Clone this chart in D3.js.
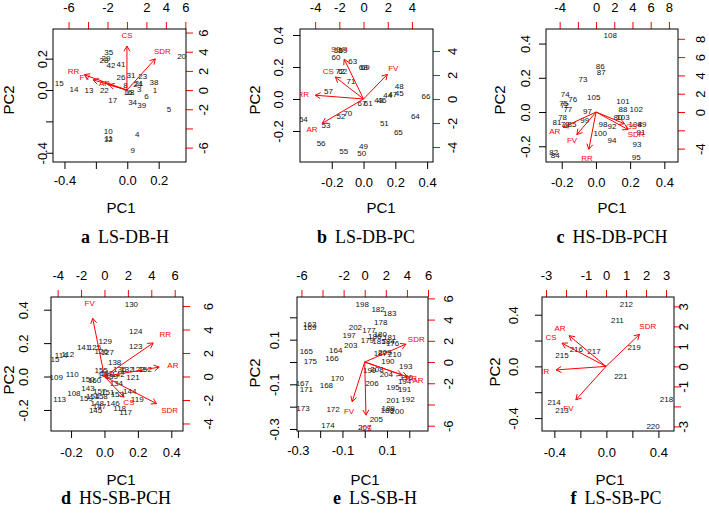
<!DOCTYPE html>
<html>
<head>
<meta charset="utf-8">
<script src="https://cdn.jsdelivr.net/npm/d3@7"></script>
<style>
  body { margin: 0; background: #fff; }
  svg { display: block; font-family: "Liberation Sans", Arial, sans-serif; }
</style>
</head>
<body>
<svg id="chart" width="709" height="513"></svg>
<script>
// ---------- data: scores (PC1, PC2) and variable loadings ----------
const aIds  = ["35","28","29","42","41","20","15","14","13","22","26","31","23","24","21","3","38","1","17","18","16","6","34","39","5","10","12","11","4","9","8"];
const aPC1  = [-0.118,-0.148,-0.135,-0.104,-0.040,0.346,-0.433,-0.339,-0.244,-0.146,-0.040,0.024,0.098,0.066,0.074,0.076,0.170,0.176,-0.093,0.017,0.004,0.123,0.034,0.092,0.266,-0.121,-0.121,-0.117,0.064,0.034,-0.012];
const aPC2  = [0.240,0.193,0.200,0.159,0.166,0.217,0.045,0.006,0.000,0.000,0.081,0.096,0.085,0.036,0.042,0.006,0.049,0.000,-0.064,-0.017,-0.015,-0.038,-0.079,-0.096,-0.125,-0.265,-0.312,-0.306,-0.280,-0.382,0.030];
const aVars = ["CS","SDR","RR","FV","AR"];
const aLd1  = [0.00, 3.64,-5.48,-4.35,-2.30];
const aLd2  = [5.74, 4.07, 2.00, 1.33, 0.70];

const bIds  = ["58","59","60","63","68","69","62","72","71","57","48","45","47","44","46","43","66","67","61","70","52","54","53","51","64","65","56","55","49","50"];
const bPC1  = [-0.160,-0.129,-0.173,-0.068,-0.002,0.010,-0.131,-0.148,-0.079,-0.221,0.225,0.225,0.184,0.152,0.116,0.095,0.393,-0.010,0.030,-0.099,-0.142,-0.379,-0.236,0.131,0.326,0.219,-0.267,-0.125,-0.001,-0.011];
const bPC2  = [0.306,0.306,0.261,0.239,0.200,0.200,0.171,0.171,0.114,0.046,0.081,0.036,0.031,0.025,-0.006,-0.006,0.019,-0.025,-0.025,-0.086,-0.110,-0.127,-0.163,-0.152,-0.110,-0.210,-0.277,-0.325,-0.294,-0.339];
const bVars = ["SDR","CS","RR","FV","AR"];
const bLd1  = [-2.00,-2.91,-4.98, 2.46,-4.26];
const bLd2  = [ 4.14, 2.28, 0.39, 2.56,-2.53];

const cIds  = ["108","86","87","73","74","76","75","72","77","105","101","88","102","97","78","81","79","85","99","80","103","98","92","104","89","91","100","94","93","95","82","84"];
const cPC1  = [0.084,0.025,0.031,-0.076,-0.179,-0.136,-0.189,-0.183,-0.164,-0.013,0.158,0.158,0.236,-0.049,-0.195,-0.228,-0.179,-0.140,-0.066,0.129,0.158,0.041,0.094,0.230,0.269,0.263,0.025,0.094,0.240,0.236,-0.247,-0.238];
const cPC2  = [0.450,0.269,0.230,0.191,0.105,0.076,0.054,0.041,0.016,0.089,0.064,0.016,0.016,0.002,-0.031,-0.062,-0.072,-0.072,-0.047,-0.033,-0.033,-0.072,-0.082,-0.072,-0.072,-0.119,-0.125,-0.164,-0.187,-0.265,-0.232,-0.251];
const cVars = ["AR","FV","RR","SDR","CS"];
const cLd1  = [-4.54,-2.64,-0.99, 4.40, 3.90];
const cLd2  = [-2.09,-3.08,-5.09,-2.40,-1.60];

const dIds  = ["130","124","123","129","141","125","127","126","112","114","115","138","109","110","150","160","155","137","139","142","136","132","122","152","121","134","143","108","113","159","157","148","145","153","144","119","146","117","118","154","158","147","151","140"];
const dPC1  = [0.161,0.187,0.187,0.005,-0.125,-0.059,0.017,-0.019,-0.219,-0.259,-0.308,0.061,-0.289,-0.193,-0.099,-0.059,-0.019,0.011,0.041,0.081,0.091,0.135,0.200,0.244,0.171,0.071,-0.099,-0.183,-0.268,-0.109,-0.029,-0.043,-0.053,0.077,0.151,0.196,0.051,0.127,0.091,-0.070,-0.020,-0.030,0.020,0.000];
const dPC2  = [0.434,0.274,0.184,0.211,0.177,0.177,0.145,0.151,0.135,0.125,0.101,0.085,-0.003,0.011,-0.015,-0.023,0.035,0.021,0.001,0.011,0.041,0.041,0.041,0.041,-0.005,-0.039,-0.069,-0.099,-0.135,-0.129,-0.089,-0.159,-0.202,-0.103,-0.089,-0.135,-0.159,-0.213,-0.189,-0.120,-0.120,-0.180,-0.095,0.010];
const dVars = ["FV","RR","AR","SDR","CS"];
const dLd1  = [-1.26, 5.20, 5.85, 5.57, 2.09];
const dLd2  = [ 6.20, 3.57, 1.00,-2.89,-2.20];

const eIds  = ["198","182","183","178","163","169","202","177","180","186","181","197","203","179","185","184","176","165","175","164","166","187","209","210","190","193","199","208","204","170","168","167","171","206","194","196","195","191","201","192","173","172","188","189","200","205","174","207"];
const ePC1  = [-0.011,0.060,0.112,0.072,-0.247,-0.247,-0.042,0.019,0.070,0.045,0.112,-0.070,-0.063,0.012,0.064,0.105,0.125,-0.262,-0.244,-0.130,-0.147,0.070,0.090,0.135,0.104,0.184,0.022,0.055,0.097,-0.123,-0.172,-0.280,-0.262,0.033,0.179,0.187,0.127,0.179,0.127,0.194,-0.277,-0.142,0.101,0.105,0.146,0.052,-0.165,0.000];
const ePC2  = [0.260,0.238,0.217,0.178,0.167,0.156,0.157,0.142,0.126,0.115,0.111,0.118,0.075,0.096,0.093,0.093,0.082,0.048,0.003,0.052,0.015,0.040,0.043,0.033,0.003,-0.017,-0.037,-0.031,-0.054,-0.072,-0.106,-0.094,-0.124,-0.094,-0.087,-0.067,-0.112,-0.121,-0.169,-0.166,-0.206,-0.211,-0.214,-0.205,-0.221,-0.256,-0.281,-0.293];
const eVars = ["SDR","RR","AR","FV","CS"];
const eLd1  = [4.89, 4.42, 5.05,-1.49, 0.15];
const eLd2  = [2.11,-1.52,-1.73,-4.67,-6.26];

const fIds  = ["212","211","219","216","217","215","221","218","214","213","220"];
const fPC1  = [0.154,0.085,0.213,-0.231,-0.095,-0.341,0.111,0.462,-0.402,-0.341,0.359];
const fPC2  = [0.483,0.357,0.150,0.134,0.116,0.085,-0.073,-0.253,-0.277,-0.336,-0.465];
const fVars = ["AR","CS","RR","FV","SDR"];
const fLd1  = [-2.30,-2.75,-3.12,-1.88, 2.09];
const fLd2  = [ 1.92, 1.45,-0.22,-2.09, 2.00];

// ---------- tick values and the labels R kept ----------
const aXT = [-0.4,-0.2,0,0.2],  aXL = [-0.4,0,0.2];
const aYT = [-0.4,-0.2,0,0.2],  aYL = [-0.4,0,0.2];
const aTT = [-6,-4,-2,0,2,4,6], aTL = [-6,-2,2,4,6];
const aRT = [-6,-4,-2,0,2,4,6], aRL = [-6,-2,0,2,4,6];

const bXT = [-0.2,0,0.2,0.4],   bXL = bXT;
const bYT = [-0.2,0,0.2,0.4],   bYL = bYT;
const bTT = [-4,-2,0,2,4],      bTL = bTT;
const bRT = [-4,-2,0,2,4],      bRL = bRT;

const cXT = [-0.2,0,0.2,0.4],   cXL = cXT;
const cYT = [-0.2,0,0.2,0.4],   cYL = cYT;
const cTT = [-4,-2,0,2,4,6,8],  cTL = [-4,0,2,4,6,8];
const cRT = [-4,-2,0,2,4,6,8],  cRL = [-4,0,2,4,6,8];

const dXT = [-0.2,0,0.2,0.4],   dXL = dXT;
const dYT = [-0.2,0,0.2,0.4],   dYL = dYT;
const dTT = [-4,-2,0,2,4,6],    dTL = dTT;
const dRT = [-4,-2,0,2,4,6],    dRL = dRT;

const eXT = [-0.3,-0.2,-0.1,0,0.1,0.2], eXL = [-0.3,-0.1,0.1];
const eYT = [-0.3,-0.2,-0.1,0,0.1,0.2], eYL = [-0.3,-0.1,0.1];
const eTT = [-6,-4,-2,0,2,4,6], eTL = [-6,-2,0,2,4,6];
const eRT = [-6,-4,-2,0,2,4,6], eRL = [-6,-2,0,2,4,6];

const fXT = [-0.4,-0.2,0,0.2,0.4], fXL = [-0.4,0,0.4];
const fYT = [-0.4,-0.2,0,0.2,0.4], fYL = [-0.4,0,0.4];
const fTT = [-3,-2,-1,0,1,2,3], fTL = [-3,-1,0,1,2,3];
const fRT = [-3,-2,-1,0,1,2,3], fRL = [-3,-1,0,1,2,3];

// ---------- panel layout ----------
const panels = [
  {tag:"a", name:"LS-DB-H", ids:aIds, p1:aPC1, p2:aPC2, vars:aVars, l1:aLd1, l2:aLd2,
   xt:aXT, xl:aXL, yt:aYT, yl:aYL, tt:aTT, tl:aTL, rt:aRT, rl:aRL,
   box:[53,29,186,162], xd:[-0.473,0.374], yd:[-0.459,0.389], sxd:[-7.6,6.07], syd:[-7.5,6.37],
   top:7, bottom:180, left:42, right:203, pc1:[121,208], pc2:[9,100], cap:[125,237]},
  {tag:"b", name:"LS-DB-PC", ids:bIds, p1:bPC1, p2:bPC2, vars:bVars, l1:bLd1, l2:bLd2,
   xt:bXT, xl:bXL, yt:bYT, yl:bYL, tt:bTT, tl:bTL, rt:bRT, rl:bRL,
   box:[300,29,433,162], xd:[-0.40,0.437], yd:[-0.394,0.4375], sxd:[-5.25,5.74], syd:[-5.25,5.83],
   top:7, bottom:182, left:278, right:452, pc1:[381,208], pc2:[255,100], cap:[366,237]},
  {tag:"c", name:"HS-DB-PCH", ids:cIds, p1:cPC1, p2:cPC2, vars:cVars, l1:cLd1, l2:cLd2,
   xt:cXT, xl:cXL, yt:cYT, yl:cYL, tt:cTT, tl:cTL, rt:cRT, rl:cRL,
   box:[546,29,678,162], xd:[-0.292,0.48], yd:[-0.292,0.485], sxd:[-5.5,9.0], syd:[-5.46,9.07],
   top:7, bottom:182, left:525, right:700, pc1:[612,208], pc2:[500,100], cap:[612,237]},
  {tag:"d", name:"HS-SB-PCH", ids:dIds, p1:dPC1, p2:dPC2, vars:dVars, l1:dLd1, l2:dLd2,
   xt:dXT, xl:dXL, yt:dYT, yl:dYL, tt:dTT, tl:dTL, rt:dRT, rl:dRL,
   box:[51,297,183,431], xd:[-0.320,0.470], yd:[-0.326,0.476], sxd:[-4.57,6.71], syd:[-4.64,6.77],
   top:275, bottom:452, left:23, right:208, pc1:[121,480], pc2:[9,380], cap:[116,498]},
  {tag:"e", name:"LS-SB-H", ids:eIds, p1:ePC1, p2:ePC2, vars:eVars, l1:eLd1, l2:eLd2,
   xt:eXT, xl:eXL, yt:eYT, yl:eYL, tt:eTT, tl:eTL, rt:eRT, rl:eRL,
   box:[297,297,428,431], xd:[-0.304,0.284], yd:[-0.309,0.291], sxd:[-6.42,6.0], syd:[-6.5,6.13],
   top:275, bottom:450, left:274, right:448, pc1:[365,480], pc2:[255,373], cap:[375,498]},
  {tag:"f", name:"LS-SB-PC", ids:fIds, p1:fPC1, p2:fPC2, vars:fVars, l1:fLd1, l2:fLd2,
   xt:fXT, xl:fXL, yt:fYT, yl:fYL, tt:fTT, tl:fTL, rt:fRT, rl:fRL,
   box:[542,297,674,431], xd:[-0.495,0.52], yd:[-0.50,0.537], sxd:[-3.2,3.4], syd:[-3.23,3.47],
   top:275, bottom:452, left:513, right:683, pc1:[610,480], pc2:[495,372], cap:[616,498]}
];

const svg = d3.select("#chart");
const RED = "#ff0000";
const fmtMain = v => v.toFixed(1);
const fmtSec = v => String(v);

panels.forEach(p => {
  const [x0, y0, x1, y1] = p.box;
  const x = d3.scaleLinear().domain(p.xd).range([x0, x1]);
  const y = d3.scaleLinear().domain(p.yd).range([y1, y0]);
  const sx = d3.scaleLinear().domain(p.sxd).range([x0, x1]);
  const sy = d3.scaleLinear().domain(p.syd).range([y1, y0]);
  const g = svg.append("g");

  // clip marks to the plot region like R does
  const clipId = "clip-" + p.tag;
  svg.append("clipPath").attr("id", clipId)
    .append("rect").attr("x", x0).attr("y", y0).attr("width", x1 - x0).attr("height", y1 - y0);

  // bottom axis (PC1)
  const gb = g.append("g").attr("transform", `translate(0,${y1})`)
    .call(d3.axisBottom(x).tickValues(p.xt).tickSize(7)
      .tickFormat(d => p.xl.includes(d) ? fmtMain(d) : ""));
  // left axis (PC2)
  const gl = g.append("g").attr("transform", `translate(${x0},0)`)
    .call(d3.axisLeft(y).tickValues(p.yt).tickSize(7)
      .tickFormat(d => p.yl.includes(d) ? fmtMain(d) : ""));
  // top axis (loadings, red ticks)
  const gt = g.append("g").attr("transform", `translate(0,${y0})`)
    .call(d3.axisTop(sx).tickValues(p.tt).tickSize(7)
      .tickFormat(d => p.tl.includes(d) ? fmtSec(d) : ""));
  // right axis (loadings, red ticks)
  const gr = g.append("g").attr("transform", `translate(${x1},0)`)
    .call(d3.axisRight(sy).tickValues(p.rt).tickSize(7)
      .tickFormat(d => p.rl.includes(d) ? fmtSec(d) : ""));

  [gb, gl, gt, gr].forEach(a => {
    a.select(".domain").remove();
    a.selectAll("text").attr("fill", "#000").style("font-size", "13px")
      .style("font-family", "'Liberation Sans', Arial, sans-serif");
  });
  gb.selectAll("line").attr("stroke", "#000");
  gl.selectAll("line").attr("stroke", "#000");
  gt.selectAll("line").attr("stroke", RED);
  gr.selectAll("line").attr("stroke", RED);

  gb.selectAll("text").attr("y", p.bottom - y1).attr("dy", "0.35em");
  gt.selectAll("text").attr("y", p.top - y0).attr("dy", "0.35em");
  gl.selectAll("text").attr("x", 0).attr("dy", "0.35em").attr("text-anchor", "middle")
    .attr("transform", `translate(${p.left - x0},0) rotate(-90)`);
  gr.selectAll("text").attr("x", 0).attr("dy", "0.35em").attr("text-anchor", "middle")
    .attr("transform", `translate(${p.right - x1},0) rotate(-90)`);

  // plot contents
  const inner = g.append("g").attr("clip-path", `url(#${clipId})`);

  inner.selectAll("text.obs")
    .data(p.ids.map((id, i) => ({id, a: p.p1[i], b: p.p2[i]})))
    .join("text")
    .attr("class", "obs")
    .attr("x", d => x(d.a)).attr("y", d => y(d.b))
    .attr("dy", "0.35em")
    .attr("text-anchor", "middle")
    .style("font-size", "8px")
    .attr("fill", "#111")
    .text(d => d.id);

  const vars = p.vars.map((v, i) => ({v, a: p.l1[i], b: p.l2[i]}));
  const ox = sx(0), oy = sy(0);
  vars.forEach(d => {
    const tx = sx(d.a * 0.8), ty = sy(d.b * 0.8);
    inner.append("line")
      .attr("x1", ox).attr("y1", oy).attr("x2", tx).attr("y2", ty)
      .attr("stroke", RED).attr("stroke-width", 1);
    const ang = Math.atan2(ty - oy, tx - ox);
    const hl = 6;
    [-Math.PI / 6, Math.PI / 6].forEach(off => {
      inner.append("line")
        .attr("x1", tx).attr("y1", ty)
        .attr("x2", tx - hl * Math.cos(ang + off))
        .attr("y2", ty - hl * Math.sin(ang + off))
        .attr("stroke", RED).attr("stroke-width", 1);
    });
  });
  inner.selectAll("text.var")
    .data(vars)
    .join("text")
    .attr("class", "var")
    .attr("x", d => sx(d.a)).attr("y", d => sy(d.b))
    .attr("dy", "0.35em")
    .attr("text-anchor", "middle")
    .style("font-size", "8px")
    .attr("fill", RED)
    .text(d => d.v);

  // box
  g.append("rect")
    .attr("x", x0).attr("y", y0).attr("width", x1 - x0).attr("height", y1 - y0)
    .attr("fill", "none").attr("stroke", "#000").attr("stroke-width", 1);

  // axis titles
  g.append("text")
    .attr("x", p.pc1[0]).attr("y", p.pc1[1]).attr("dy", "0.35em")
    .attr("text-anchor", "middle").style("font-size", "15px").text("PC1");
  g.append("text")
    .attr("transform", `translate(${p.pc2[0]},${p.pc2[1]}) rotate(-90)`)
    .attr("dy", "0.35em")
    .attr("text-anchor", "middle").style("font-size", "15px").text("PC2");

  // caption
  const cap = g.append("text")
    .attr("x", p.cap[0]).attr("y", p.cap[1]).attr("dy", "0.35em")
    .attr("text-anchor", "middle")
    .style("font-family", "'Liberation Serif', 'Times New Roman', serif")
    .style("font-size", "18px");
  cap.append("tspan").style("font-weight", "bold").text(p.tag);
  cap.append("tspan").attr("dx", 8).text(p.name);
});
</script>
</body>
</html>
